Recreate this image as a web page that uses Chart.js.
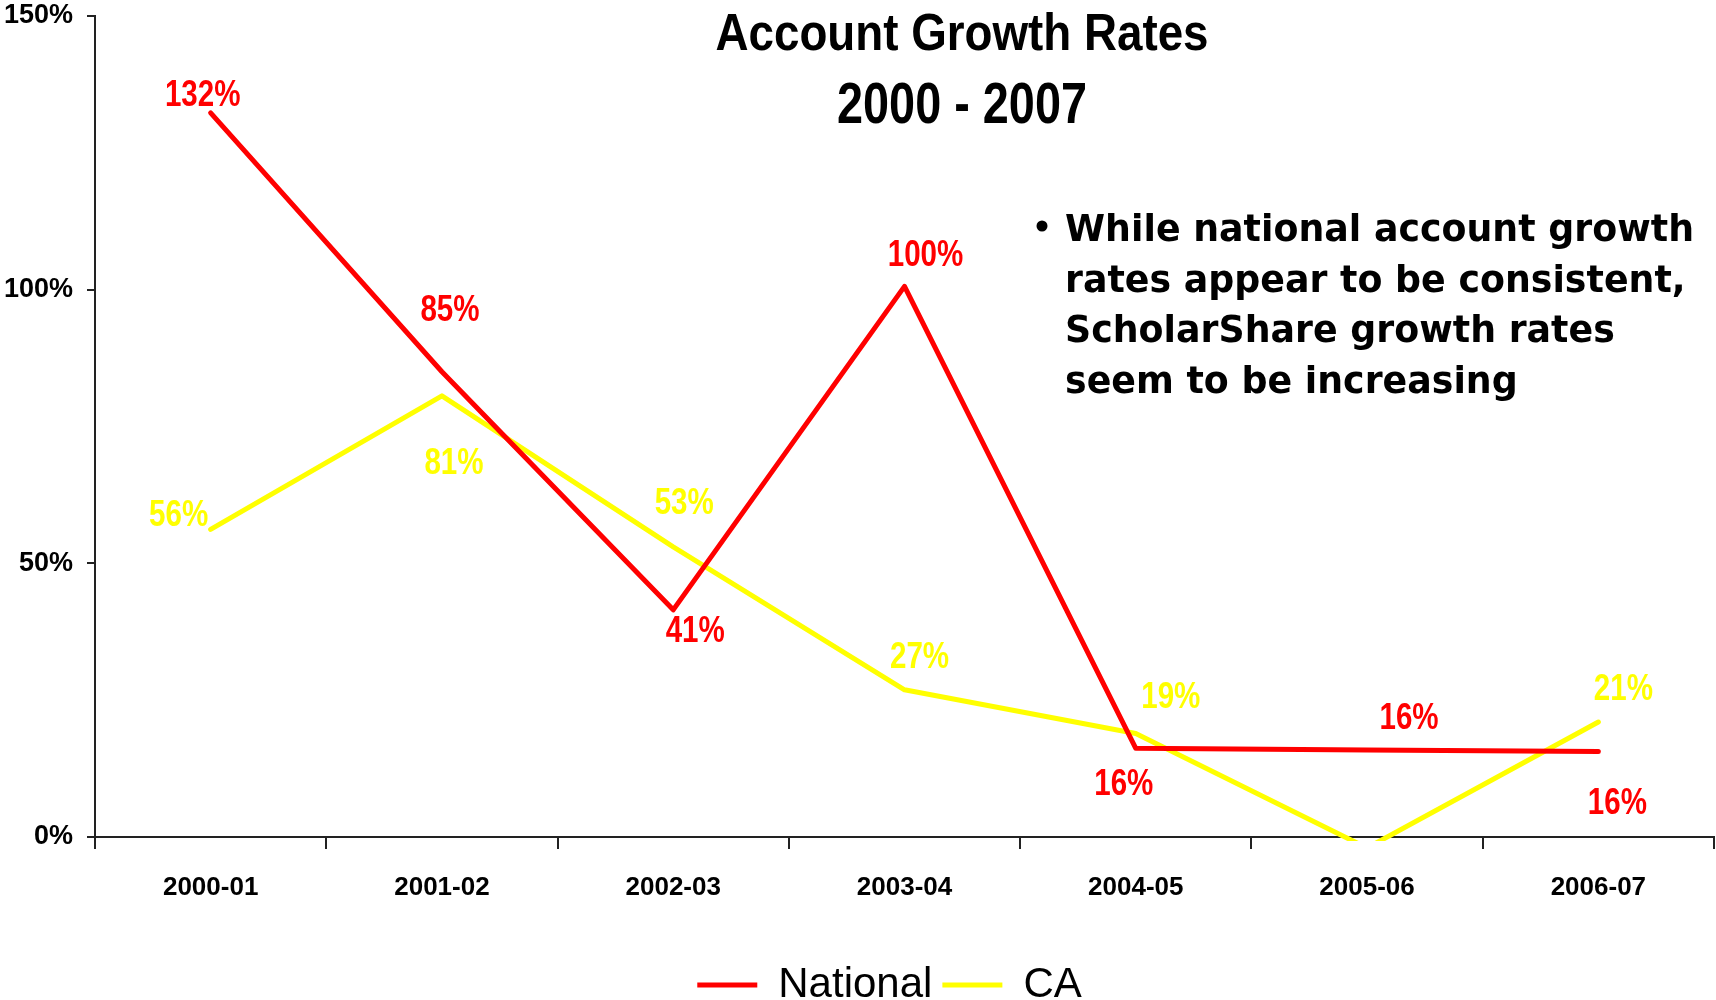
<!DOCTYPE html>
<html>
<head>
<meta charset="utf-8">
<script src="https://cdn.jsdelivr.net/npm/chart.js@4.4.0/dist/chart.umd.min.js"></script>
<style>
  html, body { margin: 0; padding: 0; background: #ffffff; overflow: hidden; }
  #wrap { width: 1716px; height: 1000px; position: relative; }
</style>
</head>
<body>
<div id="wrap"><canvas id="c" width="1716" height="1000"></canvas></div>
<script>
// ---- data ----
const categories = ['2000-01', '2001-02', '2002-03', '2003-04', '2004-05', '2005-06', '2006-07'];
const nationalValues = [132.3, 85, 41.5, 100.6, 16.2, 15.9, 15.6];
const caValues = [56.2, 80.6, 53, 26.9, 18.9, -2, 21];
const nationalLabels = ['132%', '85%', '41%', '100%', '16%', '16%', '16%'];
const caLabels = ['56%', '81%', '53%', '27%', '19%', '', '21%'];
const yTickValues = [0, 50, 100, 150];
const seriesNames = ['National', 'CA'];
const titleLines = ['Account Growth Rates', '2000 - 2007'];
const noteLines = [
  'While national account growth',
  'rates appear to be consistent,',
  'ScholarShare growth rates',
  'seem to be increasing'
];

// ---- style (label placement relative to each point) ----
const nationalLabelOffsets = [[-8, -17], [8, -61], [22, 22], [21, -30], [-12, 37], [42, -31], [19, 52]];
const caLabelOffsets = [[-32, -13], [12, 68], [11, -43], [15, -32], [35, -35], null, [25, -32]];
const RED = '#ff0000';
const YELLOW = '#ffff00';
const SANS = '"Liberation Sans", Arial, sans-serif';
const AXIS = '#222222';

function drawFitted(ctx, text, x, y, font, targetW, align, sxOverride, color, baseline) {
  ctx.save();
  ctx.font = font;
  const w = ctx.measureText(text).width;
  const sx = sxOverride || (targetW / w);
  ctx.translate(x, y);
  ctx.scale(sx, 1);
  ctx.textAlign = align;
  ctx.textBaseline = baseline || 'alphabetic';
  ctx.fillStyle = color || '#000';
  ctx.fillText(text, 0, 0);
  ctx.restore();
  return sx;
}

const pointLabelPlugin = {
  id: 'pointLabels',
  afterDatasetsDraw(chart) {
    const ctx = chart.ctx;
    const sets = [[nationalLabels, nationalLabelOffsets, RED], [caLabels, caLabelOffsets, YELLOW]];
    sets.forEach((s, di) => {
      const meta = chart.getDatasetMeta(di);
      meta.data.forEach((pt, i) => {
        const txt = s[0][i], off = s[1][i];
        if (!txt || !off) return;
        drawFitted(ctx, txt, pt.x + off[0], pt.y + off[1], 'bold 36px ' + SANS, 0, 'center', 0.82, s[2], 'middle');
      });
    });
  }
};

const textPlugin = {
  id: 'titleAndNote',
  afterLayout(chart) {
    const lg = chart.legend;
    if (lg) {
      lg.top += 16; lg.bottom += 16;
      lg.left += 32; lg.right += 32;
    }
  },
  afterDraw(chart) {
    const ctx = chart.ctx;
    drawFitted(ctx, titleLines[0], 962, 50, 'bold 52px ' + SANS, 493, 'center');
    drawFitted(ctx, titleLines[1], 962, 123, 'bold 57px ' + SANS, 250, 'center');
    const noteFont = 'bold 38px "DejaVu Sans", sans-serif';
    ctx.save();
    ctx.font = noteFont;
    const sx = 629 / ctx.measureText(noteLines[0]).width;
    ctx.restore();
    const baselines = [241, 292, 342, 393];
    noteLines.forEach((ln, i) => drawFitted(ctx, ln, 1065, baselines[i], noteFont, 0, 'left', sx));
    ctx.save();
    ctx.fillStyle = '#000';
    ctx.beginPath();
    ctx.arc(1042, 226, 5.5, 0, Math.PI * 2);
    ctx.fill();
    ctx.restore();
  }
};

new Chart(document.getElementById('c'), {
  type: 'line',
  data: {
    labels: categories,
    datasets: [
      {
        label: seriesNames[0], data: nationalValues,
        borderColor: RED, backgroundColor: RED, borderWidth: 5,
        pointRadius: 0, pointHoverRadius: 0, tension: 0,
        borderCapStyle: 'round', borderJoinStyle: 'round',
        clip: { left: 5, top: 5, right: 5, bottom: 4 }
      },
      {
        label: seriesNames[1], data: caValues,
        borderColor: YELLOW, backgroundColor: YELLOW, borderWidth: 5,
        pointRadius: 0, pointHoverRadius: 0, tension: 0,
        borderCapStyle: 'round', borderJoinStyle: 'round',
        clip: { left: 5, top: 5, right: 5, bottom: 4 }
      }
    ]
  },
  options: {
    responsive: false,
    animation: false,
    devicePixelRatio: 1,
    layout: { padding: { top: 16, left: 1, right: 2, bottom: 0 } },
    plugins: {
      title: { display: false },
      tooltip: { enabled: false },
      legend: {
        display: true,
        position: 'bottom',
        labels: {
          usePointStyle: true,
          pointStyle: 'line',
          pointStyleWidth: 60,
          boxWidth: 60,
          padding: 10,
          color: '#000',
          font: { family: SANS, size: 42, weight: 'normal' }
        }
      }
    },
    scales: {
      x: {
        type: 'category',
        offset: true,
        grid: { offset: true, drawOnChartArea: false, drawTicks: true, tickLength: 12, color: AXIS, lineWidth: 2 },
        border: { display: true, color: AXIS, width: 2 },
        ticks: { color: '#000', padding: 23, maxRotation: 0, autoSkip: false,
          font: { family: SANS, size: 26, weight: 'bold' } },
        afterFit(s) { s.height = 101; s.paddingLeft = 0; s.paddingRight = 0; }
      },
      y: {
        min: 0, max: 150,
        afterBuildTicks(s) { s.ticks = yTickValues.map(v => ({ value: v })); },
        grid: { drawOnChartArea: false, drawTicks: true, tickLength: 8, color: AXIS, lineWidth: 2 },
        border: { display: true, color: AXIS, width: 2 },
        ticks: { color: '#000', padding: 14, callback: v => v + '%',
          font: { family: SANS, size: 27, weight: 'bold', lineHeight: 1 } },
        afterFit(s) { s.width = 94; s.paddingTop = 0; s.paddingBottom = 0; }
      }
    }
  },
  plugins: [pointLabelPlugin, textPlugin]
});
</script>
</body>
</html>
